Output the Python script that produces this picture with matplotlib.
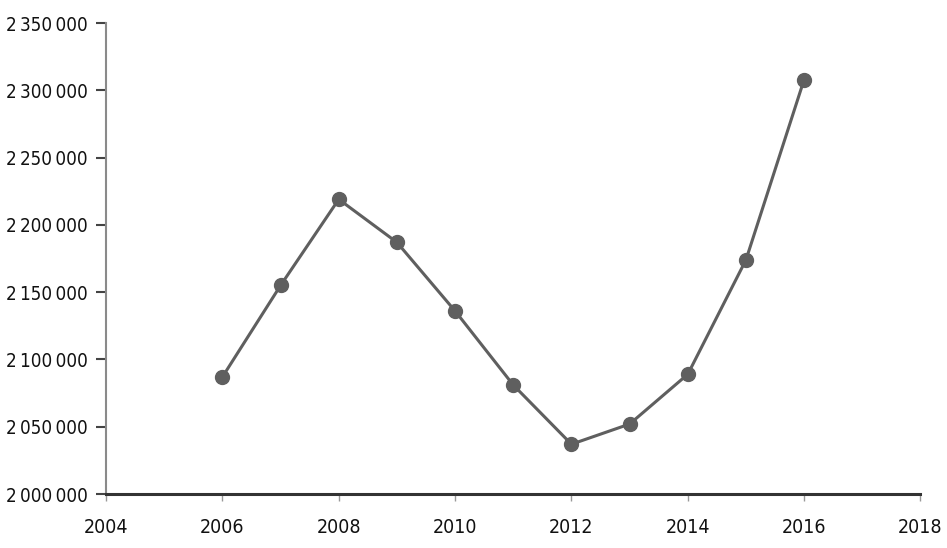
import matplotlib
matplotlib.use("Agg")
import matplotlib.pyplot as plt
from matplotlib.ticker import FuncFormatter, MultipleLocator

years = [2006, 2007, 2008, 2009, 2010, 2011, 2012, 2013, 2014, 2015, 2016]
values = [2087000, 2155000, 2219000, 2187000, 2136000, 2081000, 2037000, 2052000, 2089000, 2174000, 2308000]
x_ticks = [2004, 2006, 2008, 2010, 2012, 2014, 2016, 2018]

fig = plt.figure(figsize=(9.47, 5.48), dpi=100)
ax = fig.add_axes([0.112, 0.0985, 0.860, 0.8595])

ax.plot(years, values, color="#5f5f5f", linewidth=2.2, marker="o",
        markersize=10, markerfacecolor="#5f5f5f", markeredgecolor="#5f5f5f",
        clip_on=False, zorder=3)

ax.set_xlim(2004, 2018)
ax.set_ylim(2000000, 2350000)
ax.set_xticks(x_ticks)
ax.yaxis.set_major_locator(MultipleLocator(50000))

def fmt(v, pos):
    return "{:,}".format(int(round(v))).replace(",", "\u2009")

ax.yaxis.set_major_formatter(FuncFormatter(fmt))

for s in ["top", "right"]:
    ax.spines[s].set_visible(False)
ax.spines["left"].set_color("#8a8a8a")
ax.spines["left"].set_linewidth(1.5)
ax.spines["bottom"].set_color("#333333")
ax.spines["bottom"].set_linewidth(2.2)

ax.tick_params(axis="y", direction="out", length=7, width=1.5, color="#444444",
               pad=6, labelsize=13.5, labelcolor="#111111")
ax.tick_params(axis="x", direction="out", length=5, width=1, color="#999999",
               pad=12, labelsize=14, labelcolor="#111111")
for lab in ax.get_xticklabels() + ax.get_yticklabels():
    lab.set_family("DejaVu Sans")
    lab.set_fontstretch("condensed")

fig.savefig("out.png", dpi=100)
